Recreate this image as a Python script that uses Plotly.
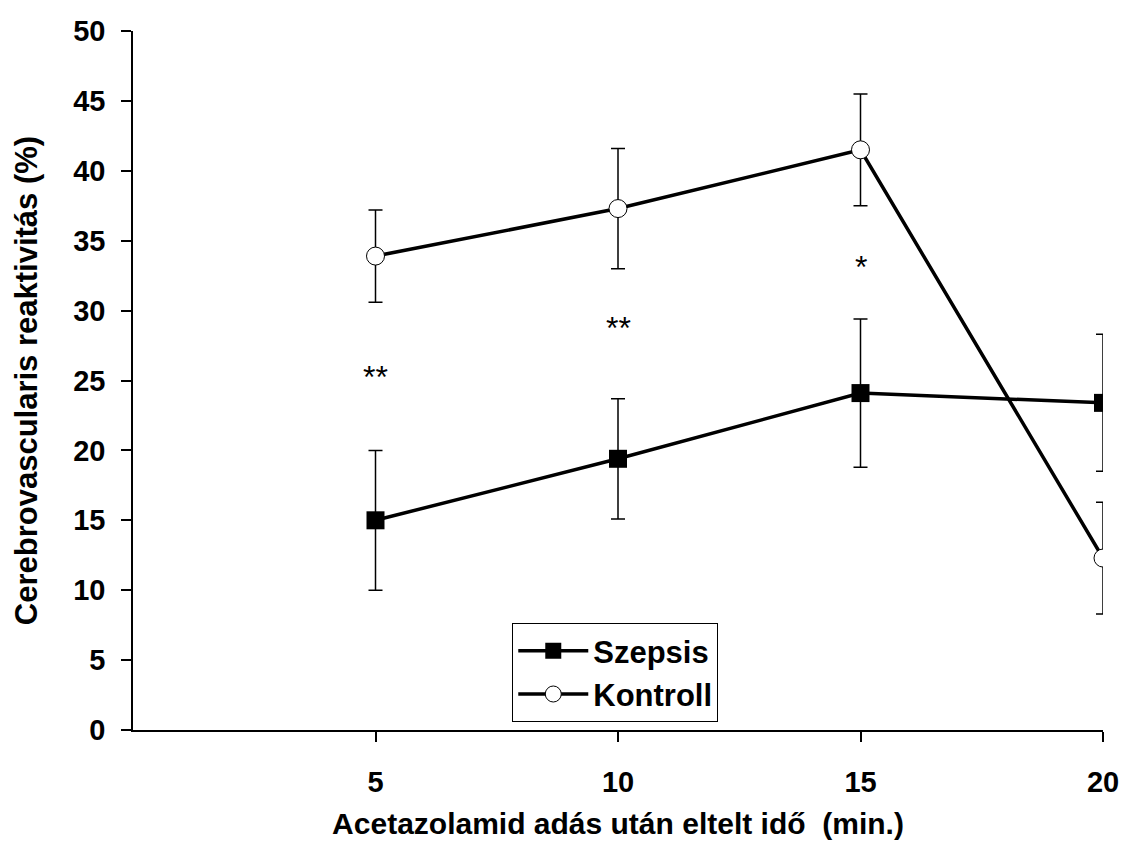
import plotly.graph_objects as go

minutes = [5, 10, 15, 20]
szepsis = [15.0, 19.4, 24.1, 23.4]
szepsis_err = [5.0, 4.3, 5.3, 4.9]
kontroll = [33.9, 37.3, 41.5, 12.3]
kontroll_err = [3.3, 4.3, 4.0, 4.0]
sig_x = [5, 10, 15]
sig_y = [25.5, 29.0, 33.3]
sig_text = ["**", "**", "*"]
y_ticks = [0, 5, 10, 15, 20, 25, 30, 35, 40, 45, 50]

FONT = "Liberation Sans, Arial, sans-serif"

fig = go.Figure()
fig.add_trace(go.Scatter(
    x=minutes, y=szepsis, name="Szepsis", mode="lines+markers",
    line=dict(color="black", width=3.5),
    marker=dict(symbol="square", size=18, color="black"),
    error_y=dict(type="data", array=szepsis_err, color="black", thickness=1.5, width=7),
))
fig.add_trace(go.Scatter(
    x=minutes, y=kontroll, name="Kontroll", mode="lines+markers",
    line=dict(color="black", width=3.5),
    marker=dict(symbol="circle", size=18, color="white", line=dict(color="black", width=1)),
    error_y=dict(type="data", array=kontroll_err, color="black", thickness=1.5, width=7),
))

for x, y, t in zip(sig_x, sig_y, sig_text):
    fig.add_annotation(x=x, y=y, text=t, showarrow=False, xanchor="center", yanchor="middle",
                       yshift=-3, font=dict(family=FONT, size=32, color="black"))

fig.update_layout(
    width=1124, height=864,
    margin=dict(l=133, r=21, t=31, b=134),
    paper_bgcolor="white", plot_bgcolor="white",
    font=dict(family=FONT, color="black"),
    showlegend=True,
    legend=dict(x=0.391, y=0.153, xanchor="left", yanchor="top",
                bordercolor="black", borderwidth=1, bgcolor="white",
                font=dict(family=FONT, size=31, color="black", weight="bold"),
                tracegroupgap=0, itemwidth=70),
)
fig.update_xaxes(
    range=[0, 20], tickvals=minutes, ticktext=[str(m) for m in minutes],
    showline=True, linecolor="black", linewidth=1.5,
    ticks="outside", ticklen=10, tickcolor="black", tickwidth=1.5,
    showgrid=False, zeroline=False, ticklabelstandoff=15, automargin="height",
    tickfont=dict(family=FONT, size=29, color="black", weight="bold"),
    title=dict(text="Acetazolamid adás után eltelt idő  (min.)", standoff=16,
               font=dict(family=FONT, size=30, color="black", weight="bold")),
)
fig.update_yaxes(
    range=[0, 50], tickvals=y_ticks,
    showline=True, linecolor="black", linewidth=1.5,
    ticks="outside", ticklen=10, tickcolor="black", tickwidth=1.5,
    showgrid=False, zeroline=False, ticklabelstandoff=10, automargin="width",
    tickfont=dict(family=FONT, size=29, color="black", weight="bold"),
    title=dict(text="Cerebrovascularis reaktivitás (%)", standoff=26,
               font=dict(family=FONT, size=31, color="black", weight="bold")),
)

fig.write_html("out.html", config={"displayModeBar": False})
with open("out.html", "r", encoding="utf-8") as f:
    html = f.read()
html = html.replace("<head>", "<head><style>html,body{margin:0;padding:0;}</style>", 1)
with open("out.html", "w", encoding="utf-8") as f:
    f.write(html)
